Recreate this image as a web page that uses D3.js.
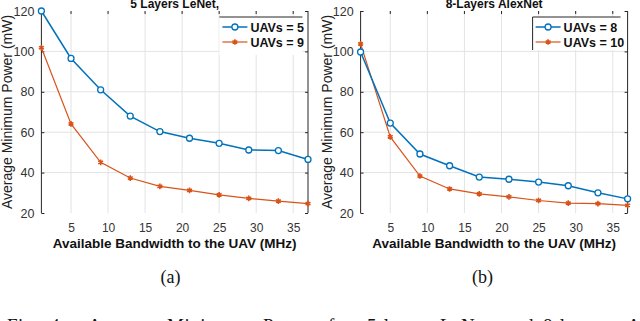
<!DOCTYPE html>
<html>
<head>
<meta charset="utf-8">
<script src="https://cdn.jsdelivr.net/npm/d3@7"></script>
<style>
  body { margin: 0; background: #fff; }
  svg { display: block; }
</style>
</head>
<body>
<svg id="chart" width="640" height="321"></svg>
<script>
// bandwidth values (MHz) shared by all series
const bandwidth = [1, 5, 9, 13, 17, 21, 25, 29, 33, 37];

// panel (a) 5 Layers LeNet
const lenetUav5 = [120, 96.5, 81, 68, 60.3, 57, 54.5, 51.2, 50.9, 46.5];
const lenetUav9 = [101.8, 64.1, 45.1, 37.3, 33.2, 31.2, 29, 27.2, 25.9, 24.6];

// panel (b) 8-Layers AlexNet
const alexUav8 = [99.7, 64.5, 49.2, 43.4, 37.8, 36.7, 35.3, 33.5, 30, 27];
const alexUav10 = [103.7, 57.7, 38.3, 31.9, 29.5, 28, 26.2, 24.9, 24.6, 23.8];

const xTicks = [5, 10, 15, 20, 25, 30, 35];
const yTicks = [20, 40, 60, 80, 100, 120];

const blue = "#0072BD";
const orange = "#D95319";
const axisColor = "#262626";
const sans = "Arial, 'Liberation Sans', sans-serif";
const serif = "'Liberation Serif', 'Times New Roman', serif";

const svg = d3.select("#chart");

function drawPanel(opts) {
  const g = svg.append("g").attr("transform", "translate(" + opts.left + ",0)");
  const w = opts.width;
  const top = 11, bottom = 213;

  const x = d3.scaleLinear().domain([1, 37]).range([0, w]);
  const y = d3.scaleLinear().domain([20, 120]).range([bottom, top]);

  // grid
  g.append("g").selectAll("line")
    .data(xTicks).join("line")
    .attr("x1", d => x(d)).attr("x2", d => x(d))
    .attr("y1", top).attr("y2", bottom)
    .attr("stroke", "#e3e3e3").attr("stroke-width", 1);
  g.append("g").selectAll("line")
    .data(yTicks.slice(1, -1)).join("line")
    .attr("x1", 0).attr("x2", w)
    .attr("y1", d => y(d)).attr("y2", d => y(d))
    .attr("stroke", "#e3e3e3").attr("stroke-width", 1);

  // bottom axis, labels only
  const xa = g.append("g")
    .attr("transform", "translate(0," + bottom + ")")
    .call(d3.axisBottom(x).tickValues(xTicks).tickSize(0).tickPadding(10));
  xa.select(".domain").remove();
  xa.selectAll("text").attr("font-size", 12).attr("fill", "#333")
    .attr("font-family", sans);

  // left axis
  const ya = g.append("g")
    .call(d3.axisLeft(y).tickValues(yTicks).tickSize(-3).tickPadding(7));
  ya.select(".domain").attr("stroke", axisColor).attr("d", "M0," + top + "V" + bottom);
  ya.selectAll(".tick line").attr("stroke", axisColor);
  ya.selectAll("text").attr("font-size", 12.5).attr("fill", "#333")
    .attr("font-family", sans);

  // right axis line with inward ticks
  const ra = g.append("g").attr("transform", "translate(" + w + ",0)")
    .call(d3.axisRight(y).tickValues(yTicks).tickSize(-3).tickFormat(""));
  ra.select(".domain").attr("stroke", axisColor).attr("d", "M0," + top + "V" + bottom);
  ra.selectAll(".tick line").attr("stroke", axisColor);

  // small top ticks
  g.append("g").selectAll("line")
    .data(xTicks).join("line")
    .attr("x1", d => x(d)).attr("x2", d => x(d))
    .attr("y1", top).attr("y2", top + 3)
    .attr("stroke", axisColor);

  const line = d3.line().x((d, i) => x(bandwidth[i])).y(d => y(d));

  // series 2 (orange, asterisk)
  g.append("path").datum(opts.s2)
    .attr("fill", "none").attr("stroke", orange).attr("stroke-width", 1.2)
    .attr("d", line);
  g.append("g").selectAll("path")
    .data(opts.s2).join("path")
    .attr("transform", (d, i) => "translate(" + x(bandwidth[i]) + "," + y(d) + ")")
    .attr("d", d3.symbol(d3.symbolAsterisk, 22))
    .attr("stroke", orange).attr("stroke-width", 1.6).attr("fill", "none");

  // series 1 (blue, circles)
  g.append("path").datum(opts.s1)
    .attr("fill", "none").attr("stroke", blue).attr("stroke-width", 1.5)
    .attr("d", line);
  g.append("g").selectAll("circle")
    .data(opts.s1).join("circle")
    .attr("cx", (d, i) => x(bandwidth[i])).attr("cy", d => y(d))
    .attr("r", 3).attr("fill", "#fff")
    .attr("stroke", blue).attr("stroke-width", 1.3);

  // title (clipped at the top in the reference)
  g.append("text")
    .attr("x", w / 2).attr("y", 8)
    .attr("text-anchor", "middle")
    .attr("font-family", sans)
    .attr("font-weight", "bold").attr("font-size", 12).attr("fill", "#111")
    .text(opts.title);

  // axis labels
  g.append("text")
    .attr("x", w / 2).attr("y", 248)
    .attr("text-anchor", "middle")
    .attr("font-family", sans)
    .attr("font-weight", "bold").attr("font-size", 13.5).attr("fill", "#111")
    .text("Available Bandwidth to the UAV (MHz)");
  g.append("text")
    .attr("transform", "translate(" + (-29) + "," + ((top + bottom) / 2) + ") rotate(-90)")
    .attr("text-anchor", "middle")
    .attr("font-family", sans)
    .attr("font-size", 14).attr("fill", "#222")
    .text("Average Minimum Power (mW)");

  // legend
  const lg = g.append("g").attr("transform", "translate(" + opts.legX + ",17)");
  lg.append("rect").attr("width", opts.legW).attr("height", opts.legH).attr("fill", "#fff");
  lg.append("line").attr("x1", 0).attr("x2", opts.legW).attr("y1", 0).attr("y2", 0)
    .attr("stroke", axisColor);
  if (opts.legLeft) {
    lg.append("line").attr("x1", 0).attr("x2", 0).attr("y1", 0).attr("y2", opts.legH)
      .attr("stroke", axisColor);
  }
  const entries = [
    {label: opts.l1, color: blue, mark: "circle"},
    {label: opts.l2, color: orange, mark: "star"}
  ];
  entries.forEach((e, i) => {
    const ey = 10 + i * 15;
    lg.append("line").attr("x1", 3).attr("x2", 28).attr("y1", ey).attr("y2", ey)
      .attr("stroke", e.color).attr("stroke-width", e.mark === "circle" ? 1.5 : 1.2);
    if (e.mark === "circle") {
      lg.append("circle").attr("cx", 15.5).attr("cy", ey).attr("r", 3)
        .attr("fill", "#fff").attr("stroke", e.color).attr("stroke-width", 1.3);
    } else {
      lg.append("path").attr("transform", "translate(15.5," + ey + ")")
        .attr("d", d3.symbol(d3.symbolAsterisk, 22))
        .attr("stroke", e.color).attr("stroke-width", 1.6).attr("fill", "none");
    }
    lg.append("text").attr("x", 31).attr("y", ey + 4.5)
      .attr("font-family", sans)
      .attr("font-weight", "bold").attr("font-size", 12.5).attr("fill", "#111")
      .text(e.label);
  });

  // sub caption
  svg.append("text")
    .attr("x", opts.left + opts.capX).attr("y", 283)
    .attr("text-anchor", "middle")
    .attr("font-family", serif)
    .attr("font-size", 18).attr("fill", "#111")
    .text(opts.sub);
}

drawPanel({
  left: 41.4, width: 266.6, title: "5 Layers LeNet,",
  s1: lenetUav5, s2: lenetUav9, l1: "UAVs = 5", l2: "UAVs = 9",
  legX: 178, legW: 83, legH: 38, legLeft: false, sub: "(a)", capX: 129
});
drawPanel({
  left: 360.6, width: 267, title: "8-Layers AlexNet",
  s1: alexUav8, s2: alexUav10, l1: "UAVs = 8", l2: "UAVs = 10",
  legX: 172, legW: 88, legH: 33, legLeft: true, sub: "(b)", capX: 122
});

// figure caption, only its top edge is visible
const capWords = ["Fig.", "4:", "Average", "Minimum", "Power", "for", "5-layers", "LeNet", "and", "8-layers", "AlexNet"];
const capX = [7, 50, 88, 167, 263, 328, 367, 440, 505, 543, 627];
svg.append("g").selectAll("text")
  .data(capWords).join("text")
  .attr("x", (d, i) => capX[i]).attr("y", 332)
  .attr("font-family", serif)
  .attr("font-size", 19).attr("letter-spacing", 0.5).attr("fill", "#111")
  .text(d => d);
</script>
</body>
</html>
